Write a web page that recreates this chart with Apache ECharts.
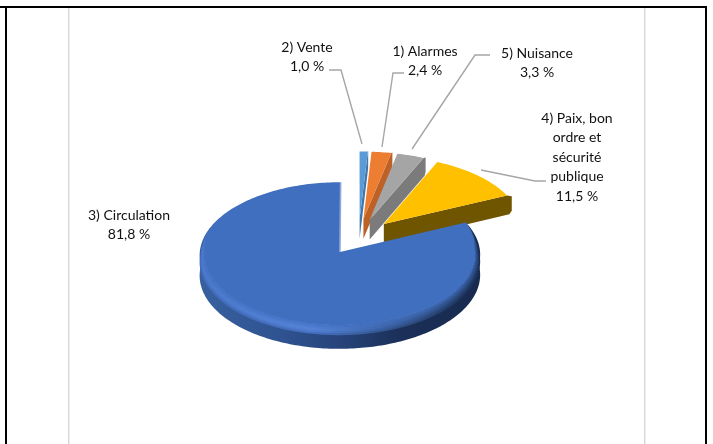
<!DOCTYPE html>
<html><head><meta charset="utf-8">
<style>html,body{margin:0;padding:0;background:#fff}#c{width:713px;height:444px}</style>
<script src="https://cdn.jsdelivr.net/npm/echarts@6/dist/echarts.min.js"></script>
</head><body><div id="c"></div>
<script>
const categories = ['2) Vente','1) Alarmes','5) Nuisance','4) Paix, bon\nordre et\nsécurité\npublique','3) Circulation'];
const values = [1.0,2.4,3.3,11.5,81.8];
const topColors = ['#5b9bd5','#ed7d31','#a5a5a5','#ffc000','#416fbf'];
const wallColors = ['#3f77ab','#bd6127','#7b7b7b','#6f5500','#2c4a80'];
const explosions = [0.26,0.26,0.26,0.26,0.245];
const labelCenters = [[307,47],[425,51],[537,53],[577,118],[129,215]];
const leaders = [
  [[329,70],[341,70],[362,144]],
  [[404,73],[393,73],[382,147]],
  [[490,55],[475,55],[412,149]],
  [[546,181],[535,181],[481,170]],
  null
];
const P = {cx:358.5, cy:237.2, rx:139, ry:71.5, k:0.04, depth:20};
const total = values.reduce((a,b)=>a+b,0);
const starts = []; { let s=0; values.forEach(v=>{starts.push(s); s+=v/total*Math.PI*2;}); }
const fmt = v => v.toFixed(1).replace('.',',')+' %';
const grad = stops => new echarts.graphic.LinearGradient(200,0,480,0,stops.map(s=>({offset:s[0],color:s[1]})),true);
// bevel strips, inner (next to the top face) to outer (next to the wall)
const bevelStops = [
  [[0,'#4573c5'],[0.4,'#4876ca'],[0.65,'#416cb8'],[0.9,'#3a63a8'],[1,'#345a9a']],
  [[0,'#4877ca'],[0.4,'#4e7dd2'],[0.65,'#406ab3'],[0.9,'#335796'],[1,'#2c4d88']],
  [[0,'#4b7acd'],[0.4,'#5582d6'],[0.65,'#3e67ae'],[0.9,'#2c4c84'],[1,'#264474']],
  [[0,'#4773c4'],[0.4,'#507dd0'],[0.65,'#3a61a5'],[0.9,'#264270'],[1,'#1f3762']],
  [[0,'#4069b6'],[0.4,'#4670c0'],[0.65,'#33578f'],[0.9,'#203a66'],[1,'#1b2f55']]
];

function proj(px,py,d){ const f=1/(1-P.k*py); return [P.cx+P.rx*px*f, P.cy+P.ry*py*f+(d||0)*f]; }
function renderItem(params, api){
  const i = params.dataIndex, v = api.value(1);
  const a0 = starts[i], a1 = a0 + v/total*Math.PI*2, mid=(a0+a1)/2, E=explosions[i];
  const ox = E*Math.sin(mid), oy = -E*Math.cos(mid);
  const pt = (a,r,d)=>proj(ox+r*Math.sin(a), oy-r*Math.cos(a), d);
  const arc = (from,to,rf,df)=>{ const n=Math.max(2,Math.ceil((to-from)/0.02)), o=[]; for(let j=0;j<=n;j++){const a=from+(to-from)*j/n; o.push(pt(a,typeof rf==='function'?rf(a):rf,typeof df==='function'?df(a):df));} return o; };
  const D = P.depth, kids = [];
  const big = v/total>0.5;
  if(!big){
    kids.push({type:'polygon',shape:{points:[proj(ox,oy,0),pt(a1,1,0),pt(a1,1.04,2),pt(a1,1.04,D-3),pt(a1,1.02,D),proj(ox,oy,D)]},style:{fill:wallColors[i]}});
    kids.push({type:'polygon',shape:{points:[proj(ox,oy,0)].concat(arc(a0,a1,1,0))},style:{fill:topColors[i]}});
  } else {
    const w0=Math.PI/2-0.4, w1=Math.PI*1.5+0.35, r0=0.965, bevel=7;
    const taper=a=>Math.min(1,Math.min((a-w0),(w1-a))/0.35);
    const S=bevelStops.length;
    kids.push({type:'polygon',shape:{points:arc(w0,w1,1,0).concat(arc(w0,w1,1,D).reverse())},style:{fill:grad([
      [0,'#38609f'],[0.3,'#2f5290'],[0.5,'#27447a'],[0.72,'#1b2f58'],[1,'#182a4e']])}});
    const rOf=q=>a=>1-(1-r0)*(1-q)*taper(a), dOf=q=>a=>bevel*q*taper(a);
    for(let s=S;s>=1;s--){
      kids.push({type:'polygon',shape:{points:arc(w0,w1,rOf(s/S),dOf(s/S)).concat(arc(w0,w1,rOf(0),dOf(0)).reverse())},style:{fill:grad(bevelStops[s-1])}});
    }
    const face=[proj(ox,oy,0)].concat(arc(a0,w0,1,0),arc(w0,w1,rOf(0),0),arc(w1,a1,1,0));
    kids.push({type:'polygon',shape:{points:face},style:{fill:topColors[i]}});
    kids.push({type:'polyline',shape:{points:[pt(a1,1,0),proj(ox,oy,0)]},style:{stroke:'#8ea9dc',lineWidth:1.6,fill:null}});
  }
  if(leaders[i]) kids.push({type:'polyline',shape:{points:leaders[i]},style:{stroke:'#a6a6a6',lineWidth:1.4,fill:null}});
  const [lx,ly]=labelCenters[i];
  const lines=(categories[i]+'\n'+fmt(v)).split('\n');
  lines.forEach((t,j)=>kids.push({type:'text',style:{x:lx,y:ly+j*19.5,text:t,align:'center',verticalAlign:'middle',fill:'#111',font:'14px Lato, "Open Sans", sans-serif'}}));
  return {type:'group',children:kids};
}
const chart = echarts.init(document.getElementById('c'),null,{renderer:'canvas'});
chart.setOption({
  animation:false, backgroundColor:'#fff',
  graphic:[
    {type:'rect',shape:{x:68,y:7,width:1.5,height:437},style:{fill:'#d9d9d9'},silent:true},
    {type:'rect',shape:{x:644,y:7,width:1.5,height:437},style:{fill:'#d9d9d9'},silent:true},
    {type:'rect',shape:{x:0,y:6,width:707,height:2},style:{fill:'#000'},silent:true},
    {type:'rect',shape:{x:5,y:6,width:2,height:438},style:{fill:'#000'},silent:true},
    {type:'rect',shape:{x:705,y:6,width:2,height:438},style:{fill:'#000'},silent:true}
  ],
  series:[{type:'custom',coordinateSystem:'none',renderItem,
    data:categories.map((c,i)=>({name:c,value:[i,values[i]]}))}]
});
</script></body></html>
